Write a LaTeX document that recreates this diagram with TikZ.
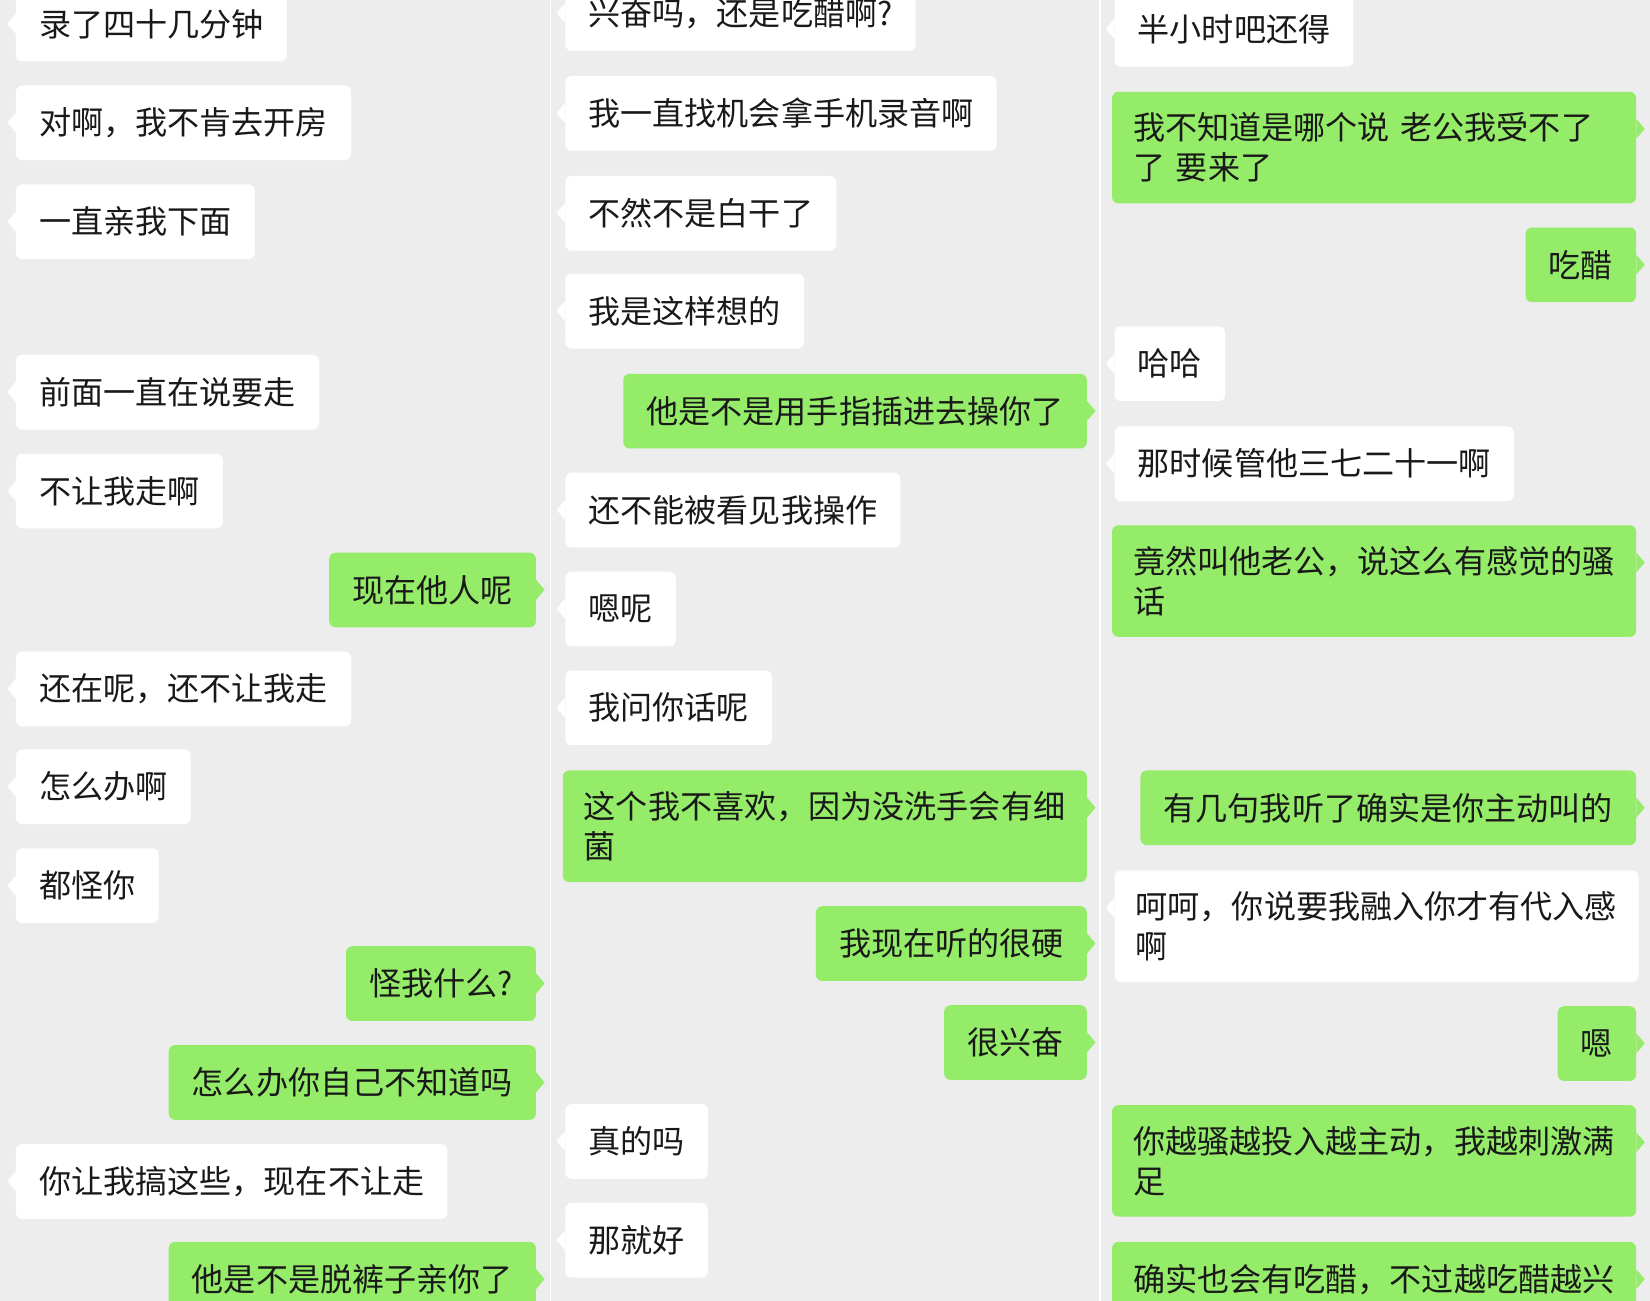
\documentclass[tikz,border=0pt]{standalone}
\usepackage{fontspec}
\setmainfont{Noto Sans CJK SC}
\usetikzlibrary{calc}
\definecolor{chatbg}{HTML}{EDEDED}
\definecolor{chatgreen}{HTML}{95EC69}
\definecolor{chattext}{HTML}{191919}
\begin{document}
\begin{tikzpicture}[x=1pt,y=-1pt,
    bub/.style={rounded corners=6pt,inner xsep=22pt,inner ysep=0pt,minimum height=71pt,
        align=left,text=chattext,font=\fontsize{30.5}{38}\selectfont},
    lbub/.style={bub,fill=white,anchor=north west},
    rbub/.style={bub,fill=chatgreen,anchor=north east},
    wide/.style={text width=458pt,inner xsep=20pt},
    twolines/.style={wide,minimum height=106pt}]
    \useasboundingbox (0,0) rectangle (1568,1236);
    \fill[chatbg] (0,0) rectangle (1568,1236);
    \clip (0,0) rectangle (1568,1236);
    % column separators
    \draw[white,line width=1.5pt] (523,0) -- (523,1236);
    \draw[white,line width=1.5pt] (1045.5,0) -- (1045.5,1236);

    % left column
    \node[lbub] (a1) at (15,-13) {录了四十几分钟};
    \node[lbub] (a2) at (15,81) {对啊，我不肯去开房};
    \node[lbub] (a3) at (15,175) {一直亲我下面};
    \node[lbub] (a4) at (15,337) {前面一直在说要走};
    \node[lbub] (a5) at (15,431) {不让我走啊};
    \node[rbub] (a6) at (509.5,525) {现在他人呢};
    \node[lbub] (a7) at (15,619) {还在呢，还不让我走};
    \node[lbub] (a8) at (15,712) {怎么办啊};
    \node[lbub] (a9) at (15,806) {都怪你};
    \node[rbub] (a10) at (509.5,899) {怪我什么?};
    \node[rbub] (a11) at (509.5,993) {怎么办你自己不知道吗};
    \node[lbub] (a12) at (15,1087) {你让我搞这些，现在不让走};
    \node[rbub] (a13) at (509.5,1180) {他是不是脱裤子亲你了};

    % middle column
    \node[lbub] (b1) at (537,-23) {兴奋吗，还是吃醋啊?};
    \node[lbub] (b2) at (537,72) {我一直找机会拿手机录音啊};
    \node[lbub] (b3) at (537,167) {不然不是白干了};
    \node[lbub] (b4) at (537,260) {我是这样想的};
    \node[rbub] (b5) at (1033,355) {他是不是用手指插进去操你了};
    \node[lbub] (b6) at (537,449) {还不能被看见我操作};
    \node[lbub] (b7) at (537,543) {嗯呢};
    \node[lbub] (b8) at (537,637) {我问你话呢};
    \node[rbub,twolines] (b9) at (1033,732) {这个我不喜欢，因为没洗手会有细\\菌};
    \node[rbub] (b10) at (1033,861) {我现在听的很硬};
    \node[rbub] (b11) at (1033,955) {很兴奋};
    \node[lbub] (b12) at (537,1049) {真的吗};
    \node[lbub] (b13) at (537,1143) {那就好};

    % right column
    \node[lbub] (c1) at (1059,-8) {半小时吧还得};
    \node[rbub,twolines] (c2) at (1555,87) {我不知道是哪个说 老公我受不了\\了 要来了};
    \node[rbub] (c3) at (1555,216) {吃醋};
    \node[lbub] (c4) at (1059,310) {哈哈};
    \node[lbub] (c5) at (1059,405) {那时候管他三七二十一啊};
    \node[rbub,twolines] (c6) at (1555,499) {竟然叫他老公，说这么有感觉的骚\\话};
    \node[rbub] (c7) at (1555,732) {有几句我听了确实是你主动叫的};
    \node[lbub,twolines] (c8) at (1059,827) {呵呵，你说要我融入你才有代入感\\啊};
    \node[rbub] (c9) at (1555,956) {嗯};
    \node[rbub,twolines] (c10) at (1555,1050) {你越骚越投入越主动，我越刺激满\\足};
    \node[rbub,wide] (c11) at (1555,1180) {确实也会有吃醋，不过越吃醋越兴};

    % bubble tails
    \foreach \n in {a1,a2,a3,a4,a5,a7,a8,a9,a12,b1,b2,b3,b4,b6,b7,b8,b12,b13,c1,c4,c5,c8}
        \fill[white] ($(\n.north west)+(0,26)$) -- ++(-8,9.5) -- ++(8,9.5) -- cycle;
    \foreach \n in {a6,a10,a11,a13,b5,b9,b10,b11,c2,c3,c6,c7,c9,c10,c11}
        \fill[chatgreen] ($(\n.north east)+(0,26)$) -- ++(8,9.5) -- ++(-8,9.5) -- cycle;
\end{tikzpicture}
\end{document}
